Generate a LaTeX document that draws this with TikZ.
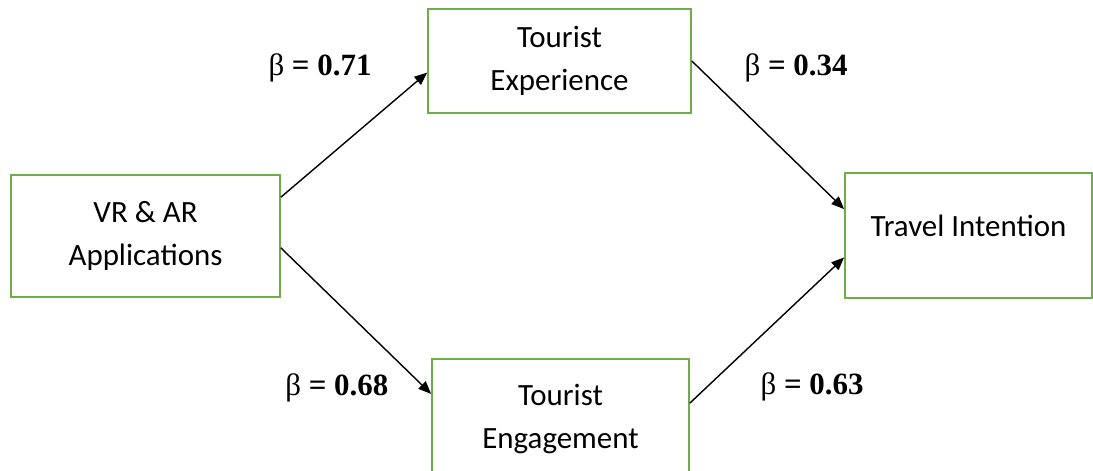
\documentclass[tikz,border=0pt]{standalone}
\usepackage{fontspec}
\setmainfont{Liberation Serif}
\newfontfamily\boxfont{Carlito}
\usetikzlibrary{positioning, arrows.meta}
\definecolor{boxgreen}{RGB}{112,173,71}

\begin{document}
\begin{tikzpicture}[
        box/.style={draw=boxgreen, line width=0.6pt, align=center, inner sep=0pt,
            font=\boxfont\fontsize{11}{15.3}\selectfont},
        beta/.style={font=\fontsize{11}{13}\selectfont},
        link/.style={-{Triangle[length=1.6mm, width=1.3mm]}, line width=0.5pt}
    ]
            \useasboundingbox (0, 0) rectangle (13.6625, -5.875);

            \node [box, minimum width=3.3625cm, minimum height=1.525cm] (vr) at (1.819, -2.95) {VR \& AR\\Applications};
            \node [box, minimum width=3.2875cm, minimum height=1.3cm] (te) at (6.994, -0.7625) {Tourist\\Experience};
            \node [box, minimum width=3.2125cm, minimum height=1.5cm] (eng) at (7.006, -5.2375) {Tourist\\Engagement};
            \node [box, minimum width=3.0875cm, minimum height=1.5625cm] (ti) at (12.106, -2.944) {\raisebox{7pt}{Travel Intention}};

            \node [beta] (b71) at (4.0, -0.85) {β \textbf{= 0.71}};
            \node [beta] (b34) at (9.95, -0.85) {β \textbf{= 0.34}};
            \node [beta] (b68) at (4.21, -4.85) {β \textbf{= 0.68}};
            \node [beta] (b63) at (10.15, -4.83) {β \textbf{= 0.63}};

            \draw [link] (vr.16) -- (te.185);
            \draw [link] (vr.-5) -- (eng.169);
            \draw [link] (te.east) -- (ti.168);
            \draw [link] (eng.7) -- (ti.190);
        \end{tikzpicture}
\end{document}
